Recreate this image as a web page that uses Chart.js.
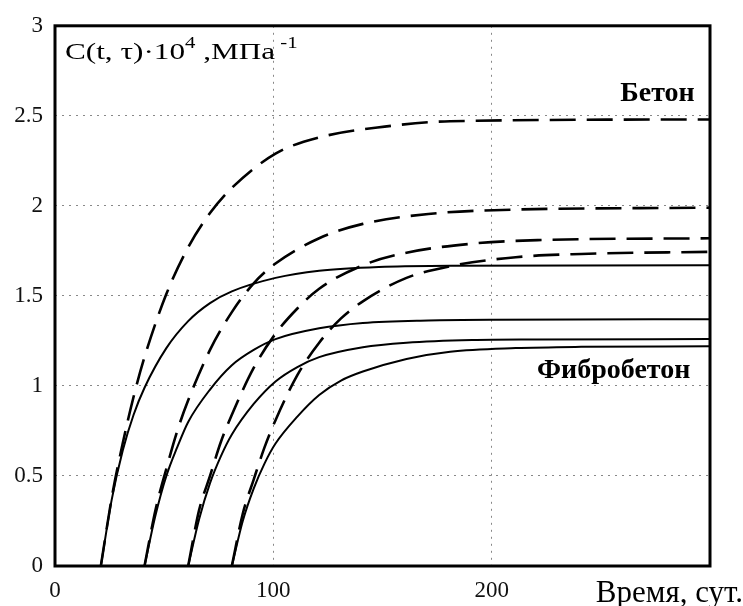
<!DOCTYPE html>
<html>
<head>
<meta charset="utf-8">
<script src="https://cdn.jsdelivr.net/npm/chart.js@4.4.1/dist/chart.umd.min.js"></script>
<style>
  body { margin: 0; background: #fff; }
  canvas { display: block; }
</style>
</head>
<body>
<canvas id="creepChart" width="743" height="606"></canvas>
<script>
// time, days (each curve starts at its loading age)
const timeTau21 = [21, 26, 31, 36, 41, 51, 61, 71, 81, 101, 121, 151, 181, 300];
const timeTau41 = [41, 46, 51, 56, 61, 71, 81, 91, 101, 121, 141, 171, 201, 300];
const timeTau61 = [61, 66, 71, 76, 81, 91, 101, 111, 121, 141, 161, 191, 221, 300];
const timeTau81 = [81, 86, 91, 96, 101, 111, 121, 131, 141, 161, 181, 211, 241, 300];

// C(t, tau) * 10^4, MPa^-1  -- concrete (dashed)
const betonTau21 = [0, 0.38, 0.68, 0.94, 1.16, 1.51, 1.77, 1.96, 2.10, 2.29, 2.38, 2.44, 2.47, 2.48];
const betonTau41 = [0, 0.31, 0.54, 0.75, 0.92, 1.20, 1.41, 1.57, 1.68, 1.82, 1.90, 1.955, 1.976, 1.99];
const betonTau61 = [0, 0.31, 0.50, 0.69, 0.84, 1.10, 1.29, 1.43, 1.54, 1.67, 1.74, 1.79, 1.81, 1.82];
const betonTau81 = [0, 0.29, 0.48, 0.66, 0.81, 1.06, 1.24, 1.375, 1.47, 1.60, 1.665, 1.715, 1.733, 1.745];

// fibre concrete (solid)
const fibroTau21 = [0, 0.37, 0.64, 0.84, 0.99, 1.21, 1.36, 1.46, 1.525, 1.60, 1.64, 1.662, 1.668, 1.67];
const fibroTau41 = [0, 0.28, 0.50, 0.66, 0.80, 0.98, 1.115, 1.20, 1.26, 1.32, 1.35, 1.364, 1.368, 1.37];
const fibroTau61 = [0, 0.26, 0.46, 0.61, 0.73, 0.90, 1.025, 1.105, 1.16, 1.215, 1.24, 1.255, 1.258, 1.26];
const fibroTau81 = [0, 0.25, 0.43, 0.57, 0.68, 0.83, 0.95, 1.03, 1.08, 1.15, 1.19, 1.21, 1.217, 1.22];

const xTicks = [0, 100, 200];
const yTicks = [0, 0.5, 1, 1.5, 2, 2.5, 3];

const serif = 'Liberation Serif, "DejaVu Serif", serif';

function toPoints(ts, cs) {
    return ts.map((t, i) => ({ x: t, y: cs[i] }));
}

function curve(ts, cs, dashed) {
    return {
        data: toPoints(ts, cs),
        borderColor: '#000',
        borderWidth: dashed ? 2.6 : 2,
        borderDash: dashed ? [26, 11] : [],
        pointRadius: 0,
        fill: false,
        cubicInterpolationMode: 'monotone'
    };
}

// frame around the plot area + text labels
const decorPlugin = {
    id: 'decor',
    afterDatasetsDraw(chart) {
        const { ctx, chartArea: a, scales: { x, y } } = chart;
        ctx.save();
        ctx.strokeStyle = '#000';
        ctx.lineWidth = 3;
        ctx.strokeRect(a.left, a.top, a.right - a.left, a.bottom - a.top);

        ctx.fillStyle = '#000';
        ctx.textBaseline = 'alphabetic';

        // curve group labels
        ctx.font = 'bold 28px ' + serif;
        ctx.textAlign = 'right';
        ctx.fillText('Бетон', x.getPixelForValue(293), y.getPixelForValue(2.58));
        ctx.fillText('Фибробетон', x.getPixelForValue(291), y.getPixelForValue(1.045));

        // axis title for x, placed where the 300 tick would be
        ctx.font = '31px ' + serif;
        ctx.fillText('Время, сут.', chart.width, a.bottom + 36);

        // y title with superscripts, slightly stretched like the scan
        ctx.textAlign = 'left';
        ctx.translate(a.left + 10, a.top + 33);
        ctx.scale(1.3, 1);
        let px = 0;
        const parts = [
            ['C(t, τ)·10', 24, 0],
            ['4', 16, -11],
            [' ,МПа', 24, 0],
            [' -1', 16, -11]
        ];
        parts.forEach(([txt, size, dy]) => {
            ctx.font = size + 'px ' + serif;
            ctx.fillText(txt, px, dy);
            px += ctx.measureText(txt).width;
        });
        ctx.restore();
    }
};

const ctx = document.getElementById('creepChart').getContext('2d');

new Chart(ctx, {
    type: 'line',
    data: {
        datasets: [
            curve(timeTau21, betonTau21, true),
            curve(timeTau41, betonTau41, true),
            curve(timeTau61, betonTau61, true),
            curve(timeTau81, betonTau81, true),
            curve(timeTau21, fibroTau21, false),
            curve(timeTau41, fibroTau41, false),
            curve(timeTau61, fibroTau61, false),
            curve(timeTau81, fibroTau81, false)
        ]
    },
    options: {
        responsive: false,
        animation: false,
        layout: { padding: { top: 25, right: 33, left: 0, bottom: 0 } },
        plugins: {
            legend: { display: false },
            tooltip: { enabled: false }
        },
        scales: {
            x: {
                type: 'linear',
                min: 0,
                max: 300,
                afterFit: s => { s.height = 40; },
                afterBuildTicks: s => { s.ticks = xTicks.map(v => ({ value: v })); },
                ticks: {
                    color: '#111',
                    font: { family: serif, size: 23 },
                    padding: 11,
                    maxRotation: 0,
                    autoSkip: false,
                    callback: v => String(v)
                },
                grid: { color: '#888', lineWidth: 1, drawTicks: false },
                border: { display: false, dash: [2, 5] }
            },
            y: {
                min: 0,
                max: 3,
                afterFit: s => { s.width = 55; },
                afterBuildTicks: s => { s.ticks = yTicks.map(v => ({ value: v })); },
                ticks: {
                    color: '#111',
                    font: { family: serif, size: 23 },
                    padding: 12,
                    autoSkip: false,
                    callback: v => String(v)
                },
                grid: { color: '#888', lineWidth: 1, drawTicks: false },
                border: { display: false, dash: [2, 5] }
            }
        }
    },
    plugins: [decorPlugin]
});
</script>
</body>
</html>
